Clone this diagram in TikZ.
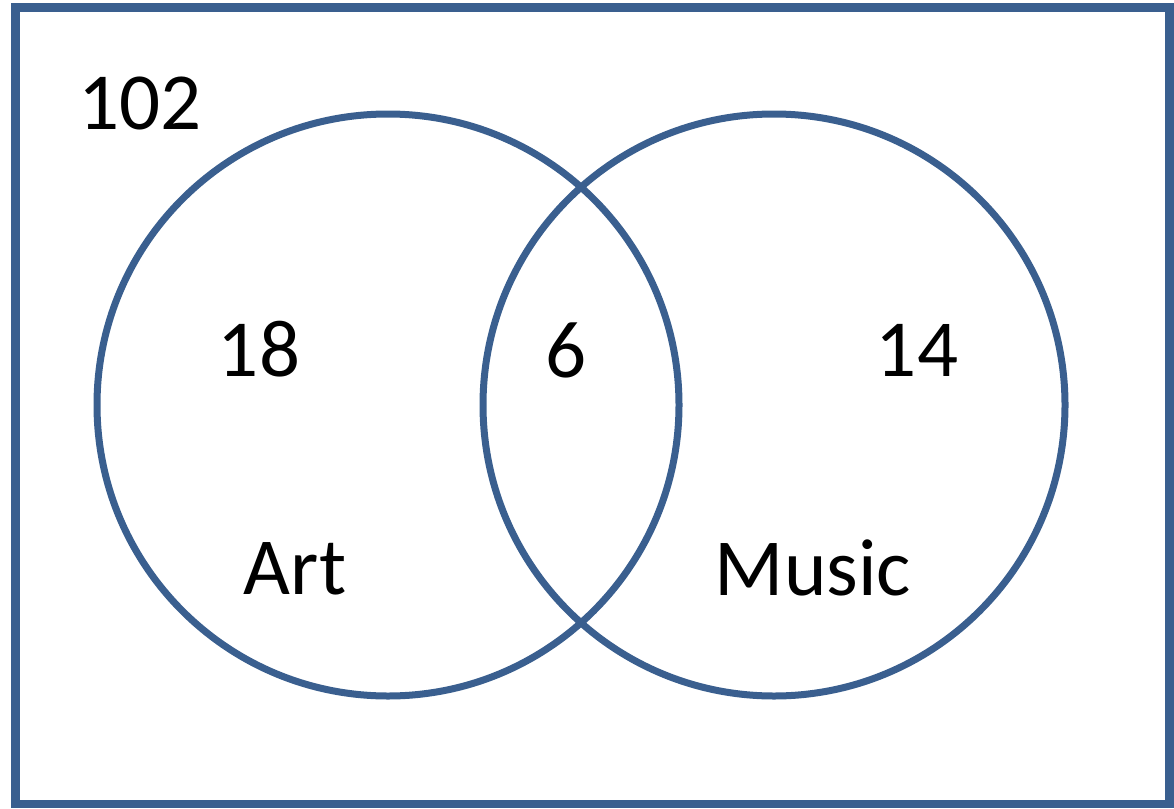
\documentclass[tikz,border=0pt]{standalone}
\usepackage{fontspec}
\setmainfont{Carlito}
\definecolor{vblue}{HTML}{3A5F8F}
\begin{document}
\begin{tikzpicture}[x=1pt,y=-1pt,
  setline/.style={draw=vblue,line width=7pt},
  lbl/.style={inner sep=0pt,font=\fontsize{81}{84}\selectfont}]
\useasboundingbox (0,0) rectangle (1174,808);
\draw[draw=vblue,line width=8.5pt] (15.5,7.5) rectangle (1169.5,804);
\node[setline,circle,minimum size=582pt,inner sep=0pt] (art) at (388,405) {};
\node[setline,circle,minimum size=582pt,inner sep=0pt] (music) at (774,405) {};
\node[lbl] (u) at (140,103) {102};
\node[lbl] (a) at (259,349) {18};
\node[lbl] (b) at (566,350) {6};
\node[lbl] (m) at (917,350) {14};
\node[lbl] (at) at (295,569) {Art};
\node[lbl] (mt) at (813,568) {Music};
\end{tikzpicture}
\end{document}
